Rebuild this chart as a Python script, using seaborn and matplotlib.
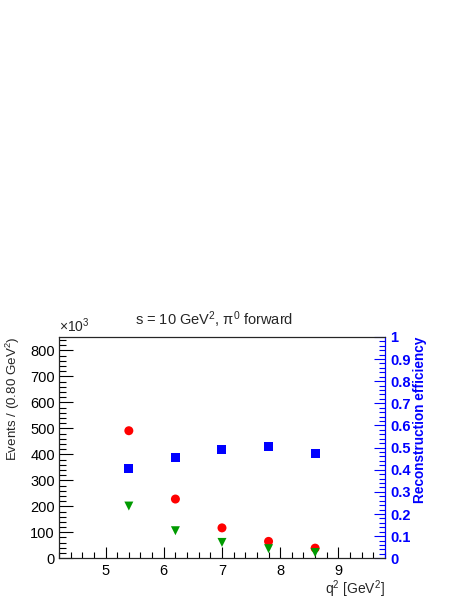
import numpy as np
import pandas as pd
import seaborn as sns
import matplotlib
matplotlib.use("Agg")
import matplotlib.pyplot as plt
from matplotlib.ticker import MultipleLocator, FuncFormatter

sns.set_theme(style="ticks")
plt.rcParams['font.family'] = ['Liberation Sans', 'DejaVu Sans']
plt.rcParams['mathtext.fontset'] = 'custom'
plt.rcParams['mathtext.rm'] = 'Liberation Sans'
plt.rcParams['mathtext.it'] = 'Liberation Sans:italic'

# data
q2_bins = [5.4, 6.2, 7.0, 7.8, 8.6]
generated = [491000, 228000, 117000, 65000, 39000]
reconstructed = [201000, 106000, 61000, 37000, 22000]
efficiency = [0.404, 0.457, 0.493, 0.505, 0.474]

df = pd.DataFrame({"q2": q2_bins, "gen": generated, "rec": reconstructed, "eff": efficiency})

fig = plt.figure(figsize=(4.63, 5.99), dpi=100)
ax = fig.add_axes([0.1274, 0.068, 0.7041, 0.3695])

sns.scatterplot(data=df, x="q2", y="gen", ax=ax, color="#ff0000", marker="o",
                s=42, edgecolor="none", zorder=3)
sns.scatterplot(data=df, x="q2", y="rec", ax=ax, color="#009a00", marker="v",
                s=42, edgecolor="none", zorder=3)

ax.set_xlim(4.2, 9.8)
ax.set_ylim(0, 852000)
ax.xaxis.set_major_locator(MultipleLocator(1))
ax.xaxis.set_minor_locator(MultipleLocator(0.2))
ax.yaxis.set_major_locator(MultipleLocator(100000))
ax.yaxis.set_minor_locator(MultipleLocator(20000))
ax.yaxis.set_major_formatter(FuncFormatter(lambda v, p: "%d" % round(v / 1000)))
ax.tick_params(axis="both", which="both", direction="in", top=False, right=False,
               labelsize=10.5, colors="black")
ax.tick_params(axis="y", which="major", length=10, width=0.8, pad=3)
ax.tick_params(axis="y", which="minor", length=5, width=0.8)
ax.tick_params(axis="x", which="major", length=8, width=0.8, pad=4)
ax.tick_params(axis="x", which="minor", length=4, width=0.8)
for sp in ax.spines.values():
    sp.set_linewidth(0.8)
    sp.set_color("black")
ax.set_xlabel("")
ax.set_ylabel("")

ax2 = ax.twinx()
sns.scatterplot(data=df, x="q2", y="eff", ax=ax2, color="#0000ff", marker="s",
                s=42, edgecolor="none", zorder=3)
ax2.set_ylim(0, 1)
ax2.yaxis.set_major_locator(MultipleLocator(0.1))
ax2.yaxis.set_minor_locator(MultipleLocator(0.02))
ax2.yaxis.set_major_formatter(FuncFormatter(lambda v, p: "0" if abs(v) < 1e-9 else ("1" if abs(v - 1) < 1e-9 else "%.1f" % v)))
ax2.tick_params(axis="y", which="both", direction="in", colors="#0000ff", labelsize=10.5, pad=4)
ax2.tick_params(axis="y", which="major", length=8, width=0.8)
ax2.tick_params(axis="y", which="minor", length=4, width=0.8)
for lab in ax2.get_yticklabels():
    lab.set_fontweight("bold")
for sp in ax2.spines.values():
    sp.set_linewidth(0.8)
ax2.spines["right"].set_color("#0000ff")
ax2.set_ylabel("")
ax2.set_xlabel("")

fig.text(0.463, 0.466, "s = 10 GeV$^2$, π$^0$ forward", ha="center", va="center", fontsize=10.5)
fig.text(0.1274, 0.441, r"$\times$10$^3$", ha="left", va="bottom", fontsize=10)
fig.text(0.8315, 0.017, r"q$^2$ [GeV$^2$]", ha="right", va="center", fontsize=10)
fig.text(0.028, 0.4374, r"Events / (0.80 GeV$^2$)", ha="center", va="top", rotation=90, fontsize=9.6)
fig.text(0.907, 0.4374, "Reconstruction efficiency", ha="center", va="top", rotation=90,
         fontsize=9.8, fontweight="bold", color="#0000ff")

fig.savefig("out.png", dpi=100)
